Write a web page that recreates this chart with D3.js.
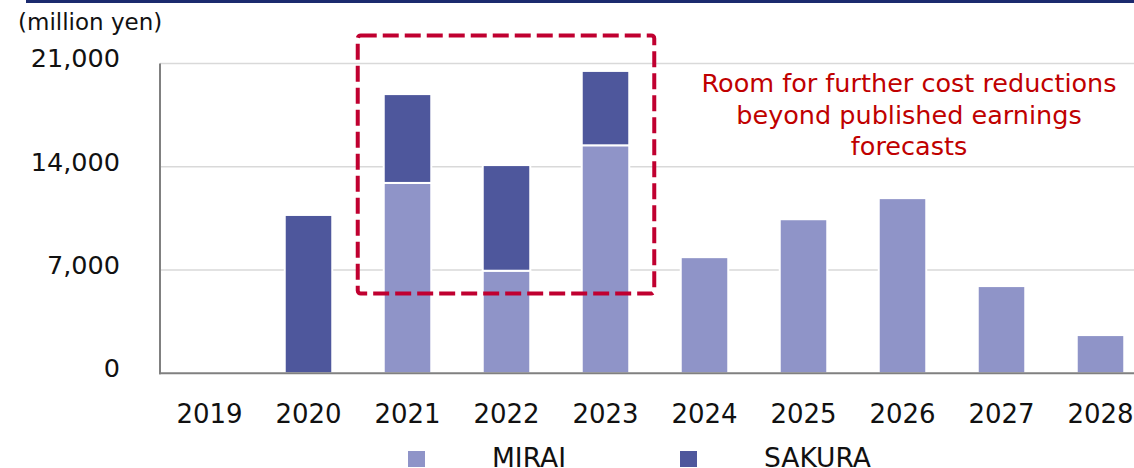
<!DOCTYPE html>
<html>
<head>
<meta charset="utf-8">
<script src="https://cdn.jsdelivr.net/npm/d3@7"></script>
<style>
  body { margin: 0; background: #fff; }
  svg { display: block; font-family: "DejaVu Sans", Verdana, sans-serif; }
</style>
</head>
<body>
<svg width="1134" height="468"></svg>
<script>
var years = ["2019", "2020", "2021", "2022", "2023", "2024", "2025", "2026", "2027", "2028"];
var mirai = [0, 0, 12900, 6950, 15450, 7870, 10440, 11870, 5910, 2590];
var sakura = [0, 10730, 6020, 7160, 5040, 0, 0, 0, 0, 0];
var seriesNames = ["MIRAI", "SAKURA"];
var seriesColors = ["#8f94c8", "#4e579c"];
var yTicks = [0, 7000, 14000, 21000];
var note = ["Room for further cost reductions", "beyond published earnings", "forecasts"];

var svg = d3.select("svg"),
    width = +svg.attr("width"),
    height = +svg.attr("height");

var rows = years.map(function(y, i) { return { year: y, MIRAI: mirai[i], SAKURA: sakura[i] }; });

var x = d3.scaleBand()
    .domain(years)
    .range([160, 1150])
    .paddingInner(0.52)
    .paddingOuter(0.26);

var y = d3.scaleLinear()
    .domain([0, 21000])
    .range([373.3, 63.4]);

var color = d3.scaleOrdinal().domain(seriesNames).range(seriesColors);

// top rule
svg.append("rect")
    .attr("x", 26).attr("y", 0)
    .attr("width", width - 26).attr("height", 3)
    .attr("fill", "#1b2a6e");

// gridlines
svg.append("g")
  .selectAll("line")
  .data(yTicks.filter(function(d) { return d > 0; }))
  .enter().append("line")
    .attr("x1", 160).attr("x2", width)
    .attr("y1", function(d) { return y(d); })
    .attr("y2", function(d) { return y(d); })
    .attr("stroke", "#d9d9d9")
    .attr("stroke-width", 1.5);

// bars
var stack = d3.stack().keys(seriesNames)(rows);

svg.append("g")
  .selectAll("g")
  .data(stack)
  .enter().append("g")
    .attr("fill", function(d) { return color(d.key); })
  .selectAll("rect")
  .data(function(d) { return d.filter(function(p) { return p[1] > p[0]; }); })
  .enter().append("rect")
    .attr("x", function(d) { return x(d.data.year); })
    .attr("y", function(d) { return y(d[1]); })
    .attr("width", x.bandwidth())
    .attr("height", function(d) { return y(d[0]) - y(d[1]); })
    .attr("stroke", "#fff")
    .attr("stroke-width", 2);

// axes
svg.append("line")
    .attr("x1", 160).attr("x2", 160)
    .attr("y1", y(21000)).attr("y2", y(0) + 1)
    .attr("stroke", "#808080").attr("stroke-width", 2);

svg.append("line")
    .attr("x1", 159).attr("x2", width)
    .attr("y1", y(0)).attr("y2", y(0))
    .attr("stroke", "#808080").attr("stroke-width", 2);

svg.append("g")
  .selectAll("text")
  .data(yTicks)
  .enter().append("text")
    .attr("x", 120)
    .attr("y", function(d) { return y(d) + 4; })
    .attr("text-anchor", "end")
    .attr("font-size", 25.5)
    .attr("fill", "#111")
    .text(function(d) { return d3.format(",")(d); });

svg.append("g")
  .selectAll("text")
  .data(years)
  .enter().append("text")
    .attr("x", function(d) { return x(d) + x.bandwidth() / 2; })
    .attr("y", 423)
    .attr("text-anchor", "middle")
    .attr("font-size", 26)
    .attr("fill", "#111")
    .text(function(d) { return d; });

svg.append("text")
    .attr("x", 18).attr("y", 30)
    .attr("font-size", 23)
    .attr("fill", "#111")
    .text("(million yen)");

// highlight box
var boxL = x("2021") - 26,
    boxR = x("2023") + x.bandwidth() + 25,
    boxT = y(21000) - 28,
    boxB = y(5400);
svg.append("rect")
    .attr("x", boxL).attr("y", boxT)
    .attr("width", boxR - boxL).attr("height", boxB - boxT)
    .attr("rx", 3)
    .attr("fill", "none")
    .attr("stroke", "#c00030")
    .attr("stroke-width", 4)
    .attr("stroke-dasharray", "16,6");

svg.append("g")
  .selectAll("text")
  .data(note)
  .enter().append("text")
    .attr("x", 909)
    .attr("y", function(d, i) { return 92 + i * 31.5; })
    .attr("text-anchor", "middle")
    .attr("font-size", 25.5)
    .attr("fill", "#c00000")
    .text(function(d) { return d; });

// legend
var legend = svg.append("g")
  .selectAll("g")
  .data(seriesNames)
  .enter().append("g")
    .attr("transform", function(d, i) { return "translate(" + (408 + i * 272) + ",451)"; });

legend.append("rect")
    .attr("width", 17).attr("height", 16)
    .attr("fill", function(d) { return color(d); });

legend.append("text")
    .attr("x", 84).attr("y", 16)
    .attr("font-size", 26.5)
    .attr("fill", "#111")
    .text(function(d) { return d; });
</script>
</body>
</html>
